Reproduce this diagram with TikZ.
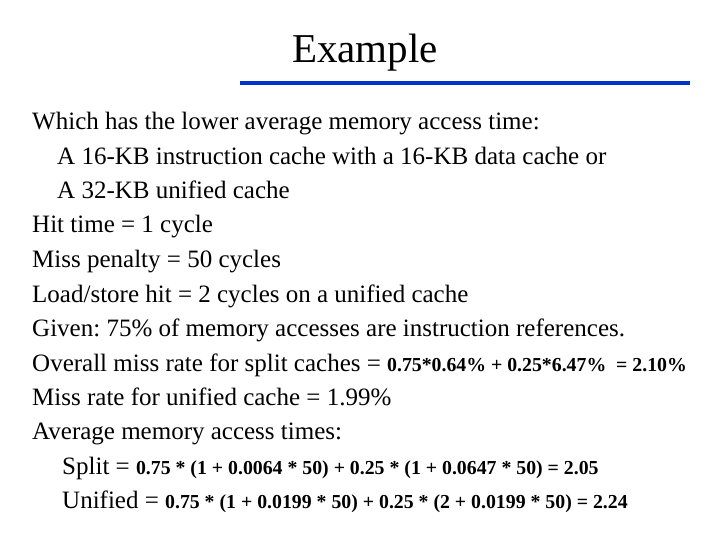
\documentclass[tikz,border=0pt]{standalone}
\usepackage{fontspec}
\setmainfont{Liberation Serif}
\frenchspacing
\tikzset{line/.style={anchor=base west, inner sep=0pt, font=\fontsize{25}{27}\selectfont}}
\newcommand{\bsm}[1]{{\fontsize{19.8}{21}\selectfont\bfseries #1}}
\begin{document}
\begin{tikzpicture}[x=1pt,y=1pt]
\useasboundingbox (0,0) rectangle (720,540);
\node[anchor=base, inner sep=0pt, font=\fontsize{41}{44}\selectfont] (title) at (365,477) {Example};
\draw[blue!75!cyan!80!black, line width=4pt] (240,457) -- (690,457);
\node[line] (l1) at (32,410) {Which has the lower average memory access time:};
\node[line] (l2) at (57,375) {A 16-KB instruction cache with a 16-KB data cache or};
\node[line] (l3) at (57,341) {A 32-KB unified cache};
\node[line] (l4) at (32,307) {Hit time = 1 cycle};
\node[line] (l5) at (32,272) {Miss penalty = 50 cycles};
\node[line] (l6) at (32,237) {Load/store hit = 2 cycles on a unified cache};
\node[line] (l7) at (32,203) {Given: 75\% of memory accesses are instruction references.};
\node[line] (l8) at (32,168) {Overall miss rate for split caches = \bsm{0.75*0.64\% + 0.25*6.47\% \ = 2.10\%}};
\node[line] (l9) at (32,134) {Miss rate for unified cache = 1.99\%};
\node[line] (l10) at (32,100) {Average memory access times:};
\node[line] (l11) at (62,65) {Split = \bsm{0.75 * (1 + 0.0064 * 50) + 0.25 * (1 + 0.0647 * 50) = 2.05}};
\node[line] (l12) at (62,31) {Unified = \bsm{0.75 * (1 + 0.0199 * 50) + 0.25 * (2 + 0.0199 * 50) = 2.24}};
\end{tikzpicture}
\end{document}
